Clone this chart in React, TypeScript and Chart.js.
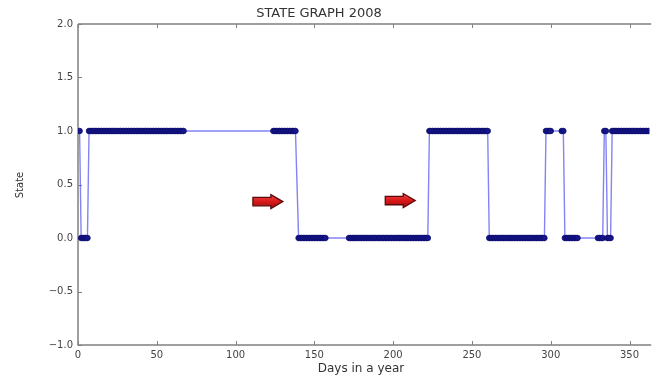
import React, { useEffect, useRef } from "react";
import { Chart, registerables } from "chart.js";

Chart.register(...registerables);

// ---- data ----
const chartTitle = "STATE GRAPH 2008";
const xTitle = "Days in a year";
const yTitle = "State";

// days observed in state 1
const daysInState1: number[] = [
  1,
  7, 8, 9, 10, 11, 12, 13, 14, 15, 16, 17, 18, 19, 20, 21, 22, 23, 24, 25, 26, 27, 28, 29, 30, 31, 32, 33, 34, 35, 36, 37, 38, 39, 40, 41, 42, 43, 44, 45, 46, 47, 48, 49, 50, 51, 52, 53, 54, 55, 56, 57, 58, 59, 60, 61, 62, 63, 64, 65, 66, 67,
  124, 125, 126, 127, 128, 129, 130, 131, 132, 133, 134, 135, 136, 137, 138,
  223, 224, 225, 226, 227, 228, 229, 230, 231, 232, 233, 234, 235, 236, 237, 238, 239, 240, 241, 242, 243, 244, 245, 246, 247, 248, 249, 250, 251, 252, 253, 254, 255, 256, 257, 258, 259, 260,
  297, 298, 299, 300,
  307, 308,
  334, 335,
  339, 340, 341, 342, 343, 344, 345, 346, 347, 348, 349, 350, 351, 352, 353, 354, 355, 356, 357, 358, 359, 360, 361, 362, 363, 364, 365,
];

// days observed in state 0
const daysInState0: number[] = [
  2, 3, 4, 5, 6,
  140, 141, 142, 143, 144, 145, 146, 147, 148, 149, 150, 151, 152, 153, 154, 155, 156, 157,
  172, 173, 174, 175, 176, 177, 178, 179, 180, 181, 182, 183, 184, 185, 186, 187, 188, 189, 190, 191, 192, 193, 194, 195, 196, 197, 198, 199, 200, 201, 202, 203, 204, 205, 206, 207, 208, 209, 210, 211, 212, 213, 214, 215, 216, 217, 218, 219, 220, 221, 222,
  261, 262, 263, 264, 265, 266, 267, 268, 269, 270, 271, 272, 273, 274, 275, 276, 277, 278, 279, 280, 281, 282, 283, 284, 285, 286, 287, 288, 289, 290, 291, 292, 293, 294, 295, 296,
  309, 310, 311, 312, 313, 314, 315, 316, 317,
  330, 331, 332, 333,
  336, 337, 338,
];

const xTicks = [0, 50, 100, 150, 200, 250, 300, 350];
const yTicks = [-1.0, -0.5, 0.0, 0.5, 1.0, 1.5, 2.0];

// red arrow annotations (data coordinates)
const arrowStartDays = [111, 195];
const arrowEndDays = [130, 214];
const arrowStates = [0.34, 0.35];

const FONT = "'DejaVu Sans', sans-serif";

function fmtY(v: number): string {
  return v.toFixed(1).replace("-", "\u2212");
}

function drawArrow(ctx: CanvasRenderingContext2D, x0: number, x1: number, yc: number, h: number) {
  const w = x1 - x0;
  const bodyH = h * 0.6;
  const headX = x0 + w * 0.6;
  ctx.save();
  ctx.beginPath();
  ctx.moveTo(x0, yc - bodyH / 2);
  ctx.lineTo(headX, yc - bodyH / 2);
  ctx.lineTo(headX, yc - h / 2);
  ctx.lineTo(x1, yc);
  ctx.lineTo(headX, yc + h / 2);
  ctx.lineTo(headX, yc + bodyH / 2);
  ctx.lineTo(x0, yc + bodyH / 2);
  ctx.closePath();
  const g = ctx.createLinearGradient(0, yc - h / 2, 0, yc + h / 2);
  g.addColorStop(0, "#f04848");
  g.addColorStop(0.5, "#d81818");
  g.addColorStop(1, "#a00c0c");
  ctx.fillStyle = g;
  ctx.fill();
  ctx.lineWidth = 1.3;
  ctx.strokeStyle = "#5a0a0a";
  ctx.stroke();
  ctx.restore();
}

const framePlugin = {
  id: "mplFrame",
  beforeDatasetsDraw(chart: any) {
    const { ctx, chartArea, scales } = chart;
    const { left, right, top, bottom } = chartArea;
    ctx.save();
    ctx.strokeStyle = "#808080";
    ctx.lineWidth = 1.5;
    ctx.beginPath();
    ctx.moveTo(left, top);
    ctx.lineTo(right + 2, top);
    ctx.moveTo(left, top);
    ctx.lineTo(left, bottom);
    ctx.lineTo(right + 2, bottom);
    ctx.stroke();
    ctx.lineWidth = 1;
    ctx.beginPath();
    for (const v of xTicks) {
      const px = Math.round(scales.x.getPixelForValue(v)) + 0.5;
      ctx.moveTo(px, bottom);
      ctx.lineTo(px, bottom - 4);
      ctx.moveTo(px, top);
      ctx.lineTo(px, top + 4);
    }
    for (const v of yTicks) {
      const py = Math.round(scales.y.getPixelForValue(v)) + 0.5;
      ctx.moveTo(left, py);
      ctx.lineTo(left + 4, py);
    }
    ctx.stroke();
    ctx.restore();
  },
  afterDraw(chart: any) {
    const { ctx, scales } = chart;
    for (let i = 0; i < arrowStartDays.length; i++) {
      const x0 = scales.x.getPixelForValue(arrowStartDays[i]);
      const x1 = scales.x.getPixelForValue(arrowEndDays[i]);
      const yc = scales.y.getPixelForValue(arrowStates[i]);
      drawArrow(ctx, x0, x1, yc, 14);
    }
    ctx.save();
    ctx.fillStyle = "#333";
    ctx.textAlign = "center";
    ctx.textBaseline = "middle";
    ctx.font = `13px ${FONT}`;
    ctx.fillText(chartTitle, 319, 14);
    ctx.font = `12px ${FONT}`;
    ctx.fillText(xTitle, 361, 369);
    ctx.translate(20, 185);
    ctx.rotate(-Math.PI / 2);
    ctx.font = `10px ${FONT}`;
    ctx.fillText(yTitle, 0, 0);
    ctx.restore();
  },
};

export default function App() {
  const canvasRef = useRef<HTMLCanvasElement | null>(null);

  useEffect(() => {
    if (!canvasRef.current) return;
    const points = [
      ...daysInState1.map((d) => ({ x: d, y: 1 })),
      ...daysInState0.map((d) => ({ x: d, y: 0 })),
    ].sort((a, b) => a.x - b.x);
    const chart = new Chart(canvasRef.current, {
      type: "line",
      data: {
        datasets: [
          {
            label: "State",
            data: points,
            borderColor: "rgba(90, 90, 240, 0.75)",
            borderWidth: 1.4,
            pointRadius: 2.8,
            pointBorderWidth: 0.8,
            pointBackgroundColor: "#16168a",
            pointBorderColor: "#0c0c70",
            tension: 0,
            fill: false,
          },
        ],
      },
      options: {
        animation: false,
        responsive: false,
        maintainAspectRatio: false,
        events: [],
        layout: { padding: { top: 24, right: 0, left: 0, bottom: 0 } },
        plugins: {
          legend: { display: false },
          title: { display: false },
          tooltip: { enabled: false },
        },
        scales: {
          x: {
            type: "linear",
            min: 0,
            max: 362.5,
            grid: { display: false, drawTicks: false },
            border: { display: false },
            afterBuildTicks: (scale: any) => {
              scale.ticks = xTicks.map((v) => ({ value: v }));
            },
            afterFit: (scale: any) => {
              scale.height = 36;
            },
            ticks: {
              padding: 4,
              color: "#444",
              font: { family: FONT, size: 10 },
              maxRotation: 0,
              autoSkip: false,
              callback: (v: any) => String(v),
            },
          },
          y: {
            type: "linear",
            min: -1,
            max: 2,
            grid: { display: false, drawTicks: false },
            border: { display: false },
            afterBuildTicks: (scale: any) => {
              scale.ticks = yTicks.map((v) => ({ value: v }));
            },
            afterFit: (scale: any) => {
              scale.width = 78;
            },
            ticks: {
              padding: 5,
              color: "#444",
              font: { family: FONT, size: 10 },
              autoSkip: false,
              callback: (v: any) => fmtY(Number(v)),
            },
          },
        },
      },
      plugins: [framePlugin],
    });
    return () => chart.destroy();
  }, []);

  return (
    <div style={{ position: "fixed", left: 0, top: 0, width: 654, height: 381, background: "#fff", overflow: "hidden" }}>
      <canvas ref={canvasRef} width={654} height={381} style={{ display: "block", width: 654, height: 381 }} />
    </div>
  );
}
